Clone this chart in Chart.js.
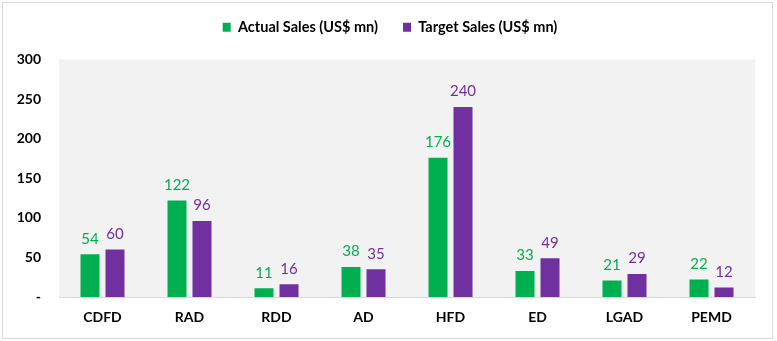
<!DOCTYPE html>
<html>
<head>
<meta charset="utf-8">
<script src="https://cdn.jsdelivr.net/npm/chart.js@4"></script>
<style>
  html, body { margin: 0; padding: 0; background: #fff; }
  #frame {
    position: absolute; left: 2px; top: 2px;
    width: 769px; height: 335px;
    border: 1px solid #d9d9d9;
  }
  #frame canvas { display: block; }
</style>
</head>
<body>
<div id="frame"><canvas id="chart" width="769" height="335"></canvas></div>
<script>
const categories = ['CDFD', 'RAD', 'RDD', 'AD', 'HFD', 'ED', 'LGAD', 'PEMD'];
const actualSales = [54, 122, 11, 38, 176, 33, 21, 22];
const targetSales = [60, 96, 16, 35, 240, 49, 29, 12];
const seriesNames = ['Actual Sales (US$ mn)', 'Target Sales (US$ mn)'];
const yTicks = [0, 50, 100, 150, 200, 250, 300];

const GREEN = '#00b050';
const PURPLE = '#7030a0';
const FONT = 'Lato, "Open Sans", sans-serif';

// gray plot background
const plotBackground = {
    id: 'plotBackground',
    beforeDraw(chart) {
        const {ctx, chartArea: a} = chart;
        ctx.save();
        ctx.fillStyle = '#f2f2f2';
        ctx.fillRect(a.left, a.top, a.right - a.left, a.bottom - a.top);
        ctx.restore();
    }
};

// the legend sits centred on the whole frame, not on the padded box
const legendShift = {
    id: 'legendShift',
    afterLayout(chart) {
        if (chart.legend) {
            chart.legend.left += 11;
            chart.legend.right += 11;
        }
    }
};

// value labels above each bar, coloured like the series
const valueLabels = {
    id: 'valueLabels',
    afterDatasetsDraw(chart) {
        const ctx = chart.ctx;
        ctx.save();
        ctx.font = '15px ' + FONT;
        ctx.textAlign = 'center';
        ctx.textBaseline = 'bottom';
        chart.data.datasets.forEach((ds, i) => {
            chart.getDatasetMeta(i).data.forEach((bar, j) => {
                ctx.fillStyle = ds.backgroundColor;
                ctx.fillText(String(ds.data[j]), bar.x, bar.y - 8);
            });
        });
        ctx.restore();
    }
};

new Chart(document.getElementById('chart'), {
    type: 'bar',
    data: {
        labels: categories,
        datasets: [
            { label: seriesNames[0], data: actualSales, backgroundColor: GREEN,
              categoryPercentage: 0.575, barPercentage: 0.76 },
            { label: seriesNames[1], data: targetSales, backgroundColor: PURPLE,
              categoryPercentage: 0.575, barPercentage: 0.76 }
        ]
    },
    options: {
        responsive: false,
        animation: false,
        layout: { padding: { left: 0, right: 17, top: -8, bottom: 0 } },
        plugins: {
            legend: {
                position: 'top',
                labels: {
                    boxWidth: 8,
                    boxHeight: 9,
                    padding: 25,
                    color: '#000',
                    font: { family: FONT, size: 14.5, weight: 'bold' }
                }
            },
            // empty spacer between legend and plot
            subtitle: {
                display: true,
                text: '',
                weight: 500,
                padding: { top: 0, bottom: 14 },
                font: { size: 1, lineHeight: 1 }
            },
            tooltip: { enabled: false }
        },
        scales: {
            x: {
                grid: { display: false, drawTicks: false },
                border: { display: true, color: '#d9d9d9' },
                ticks: { color: '#000', padding: 12, font: { family: FONT, size: 14, weight: 'bold' } },
                afterFit(scale) { scale.height = 41; }
            },
            y: {
                min: 0,
                max: 300,
                grid: { display: false, drawTicks: false },
                border: { display: false },
                afterBuildTicks(scale) { scale.ticks = yTicks.map(v => ({ value: v })); },
                ticks: {
                    color: '#000',
                    padding: 18,
                    font: { family: FONT, size: 14, weight: 'bold' },
                    callback: v => v === 0 ? '-' : v
                },
                afterFit(scale) { scale.width = 56; }
            }
        }
    },
    plugins: [plotBackground, legendShift, valueLabels]
});
</script>
</body>
</html>
